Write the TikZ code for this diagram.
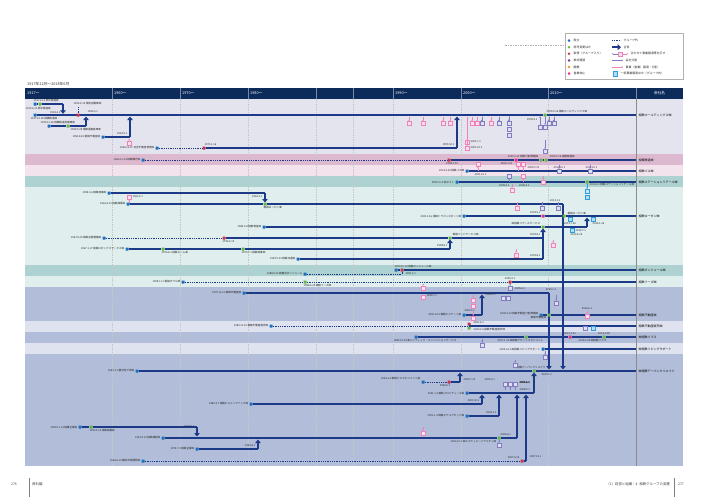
\documentclass[tikz,border=0pt]{standalone}
\usepackage{fontspec}
\setmainfont{Noto Sans CJK JP}
\usetikzlibrary{arrows.meta}

\definecolor{hdr}{RGB}{12,42,90}
\definecolor{lane}{RGB}{28,58,136}
\definecolor{bandH}{RGB}{228,228,238}
\definecolor{pinkD}{RGB}{221,185,208}
\definecolor{pinkL}{RGB}{243,227,237}
\definecolor{tealD}{RGB}{174,210,209}
\definecolor{tealL}{RGB}{224,238,238}
\definecolor{blueD}{RGB}{177,189,217}
\definecolor{blueL}{RGB}{223,227,240}
\definecolor{cSet}{RGB}{26,111,192}
\definecolor{cRen}{RGB}{96,182,72}
\definecolor{cAcq}{RGB}{200,51,74}
\definecolor{cSold}{RGB}{123,63,152}
\definecolor{cDis}{RGB}{242,154,30}
\definecolor{cRest}{RGB}{224,48,138}
\definecolor{icoP}{RGB}{238,130,185}
\definecolor{icoV}{RGB}{130,124,192}
\definecolor{icoC}{RGB}{43,157,224}

\def \lblfont {\fontsize{2.6}{3}\selectfont}
\def \namefont {\fontsize{3}{3.4}\selectfont}
\def \lanew {1.35pt}

\tikzset{
  lane/.style={draw=lane, line width=\lanew},
  outgrp/.style={draw=lane, line width=0.8pt, dash pattern=on 0.7pt off 1.1pt},
  merge/.style={lane, -{Triangle[width=5.5pt,length=3.4pt]}},
  gridln/.style={draw=black!22, line width=0.3pt, dash pattern=on 1.5pt off 1pt},
  pt/.style={rectangle, rounded corners=0.4pt, inner sep=0pt, minimum size=3pt},
  ptset/.style={pt, fill=cSet},
  ptren/.style={pt, fill=cRen},
  ptacq/.style={pt, fill=cAcq},
  ptrest/.style={pt, fill=cRest},
  lbl/.style={font=\lblfont, inner sep=0.5pt, text=black!85},
  coname/.style={font=\namefont, inner sep=0.5pt, anchor=west, text=black},
  hdtxt/.style={font=\fontsize{3.8}{4}\selectfont, text=white, inner sep=0pt, anchor=west},
  legtxt/.style={font=\fontsize{2.9}{3.2}\selectfont, inner sep=0.5pt, anchor=west, text=black!85},
  ico/.style={rectangle, inner sep=0pt, minimum width=3.4pt, minimum height=4pt, line width=0.4pt},
  stem/.style={line width=0.45pt, -{Stealth[length=1.3pt,width=1.6pt]}},
}

% small split / transfer marker: name, colour, x, y on lane, y of box
\newcommand\sticon[5]{%
  \coordinate (#1s) at (#3,#4);
  \node[ico, draw=#2, fill=#2!25] (#1) at (#3,#5) {};
  \draw[stem, draw=#2] (#1s) -- (#1);
}

\begin{document}
\begin{tikzpicture}[x=1pt,y=-1pt]
\useasboundingbox (0,0) rectangle (708,501);

% bands
\fill[bandH] (25,99) rectangle (683,154);
\fill[pinkD] (25,154) rectangle (683,165);
\fill[pinkL] (25,165) rectangle (683,176);
\fill[tealD] (25,176) rectangle (683,187);
\fill[tealL] (25,187) rectangle (683,265);
\fill[tealD] (25,265) rectangle (683,276);
\fill[tealL] (25,276) rectangle (683,287);
\fill[blueD] (25,287) rectangle (683,321);
\fill[blueL] (25,321) rectangle (683,332);
\fill[blueD] (25,332) rectangle (683,343);
\fill[blueL] (25,343) rectangle (683,354);
\fill[blueD] (25,354) rectangle (683,466);

% grid
\foreach \gx in {112,180,248,316,353,393,461,548}
  \draw[gridln] (\gx,99) -- (\gx,466);
\draw[black!45, line width=0.4pt] (636,99) -- (636,466);

% header
\node[font=\fontsize{3.8}{4}\selectfont, anchor=west, inner sep=0pt, text=black!80] (span) at (27,84) {1917年12月〜2018年6月};
\fill[hdr] (25,88) rectangle (683,99);
\foreach \gx in {112,180,248,316,353,393,461,548,636}
  \draw[white!45!hdr, line width=0.3pt] (\gx,88) -- (\gx,99);
\node[hdtxt] (h1917) at (27,93.5) {1917〜};
\node[hdtxt] (h1960) at (114,93.5) {1960〜};
\node[hdtxt] (h1970) at (182,93.5) {1970〜};
\node[hdtxt] (h1980) at (250,93.5) {1980〜};
\node[hdtxt] (h1990) at (395,93.5) {1990〜};
\node[hdtxt] (h2000) at (463,93.5) {2000〜};
\node[hdtxt] (h2010) at (550,93.5) {2010〜};
\node[hdtxt, anchor=center] (hname) at (659.5,93.5) {会社名};

% legend
\draw[black!30, line width=0.4pt, dash pattern=on 1.5pt off 1pt] (505,45) -- (565,45);
\draw[black!30, line width=0.4pt, fill=white] (565,33) rectangle (683,79);
\foreach \c/\t [count=\i] in {cSet/設立, cRen/商号変更ほか, cAcq/取得（グループ入り）, cSold/株式譲渡, cDis/解散, cRest/営業休止}{
  \node[circle, fill=\c, inner sep=0pt, minimum size=2.8pt] (lg\i) at (569,34+6.6*\i) {};
  \node[legtxt] (lg\i t) at (573,34+6.6*\i) {\t};
}
\coordinate (lo0) at (612,40.6); \coordinate (lo1) at (621,40.6);
\draw[outgrp] (lo0) -- (lo1);
\node[legtxt] (lot) at (623,40.6) {グループ外};
\coordinate (lm0) at (612,47.2); \coordinate (lm1) at (621,47.2);
\draw[lane, line width=1.6pt, -{Triangle[width=6pt,length=3.5pt]}] (lm0) -- (lm1);
\node[legtxt] (lmt) at (623,47.2) {合併};
\node[ico, draw=icoP, fill=icoP!25] (lsb) at (620,53.8) {};
\coordinate (ls0) at (612,53.8); \coordinate (ls1) at (628,53.8);
\draw[stem, draw=icoV] (lsb) -- (ls0);
\draw[stem, draw=icoP] (lsb) -- (ls1);
\node[legtxt] (lst) at (630,53.8) {合わせて事業譲渡等を示す};
\coordinate (lv0) at (612,60.4); \coordinate (lv1) at (623,60.4);
\draw[stem, draw=icoV, line width=0.6pt] (lv0) -- (lv1);
\node[legtxt] (lvt) at (625,60.4) {会社分割};
\coordinate (lp0) at (612,67); \coordinate (lp1) at (623,67);
\draw[stem, draw=icoP, line width=0.6pt] (lp0) -- (lp1);
\node[legtxt] (lpt) at (625,67) {事業（営業）譲渡・分割};
\node[ico, draw=icoC, fill=icoC!35, minimum width=4.5pt, minimum height=4.5pt] (lc) at (615,73.6) {};
\node[legtxt] (lct) at (620,73.6) {一部事業譲渡ほか（グループ内）};

% --- 相鉄ホールディングス
\node[ptset] (sa0) at (35,115) {};
\node[ptren] (sa1) at (545,115) {};
\coordinate (saE) at (636,115);
\draw[lane] (sa0) -- (sa1) -- (saE);
\node[lbl, anchor=north west] (sa0t) at (30,116.5) {1917.12.18 相模鉄道㈱};
\node[lbl, anchor=south west] (sa1t) at (546,113.6) {2009.9.16 相鉄ホールディングス㈱};
\node[coname] (saN) at (638,115) {相鉄ホールディングス㈱};

\node[ptset] (jn0) at (35,104) {};
\node[ptren] (jn1) at (40,104) {};
\coordinate (jnB) at (63,104); \coordinate (jnM) at (63,113.8);
\draw[lane] (jn0) -- (jn1) -- (jnB);
\draw[merge] (jnB) -- (jnM);
\node[lbl, anchor=south west] (jn0t) at (33,102.6) {1917.12.2 神中鉄道㈱};
\node[lbl, anchor=west] (jn1t) at (25,108.5) {1919.6.10 神中鉄道㈱};
\node[lbl, anchor=east] (jnMt) at (61,112.2) {1943.4.1};

\coordinate (ak0) at (78,107);
\node[ptacq] (ak1) at (78,115) {};
\draw[outgrp] (ak0) -- (ak1);
\node[lbl, anchor=south west] (ak0t) at (73,105.5) {1925.5.15 相武自動車㈱};

\node[ptset] (jd0) at (49,126) {};
\node[ptren] (jd1) at (68,126) {};
\coordinate (jdB) at (86,126); \coordinate (jdM) at (86,116.6);
\draw[lane] (jd0) -- (jd1) -- (jdB);
\draw[merge] (jdB) -- (jdM);
\node[lbl, anchor=south west] (jd0t) at (40,124.6) {1939.12.18 相模鉄道自動車㈱};
\node[lbl, anchor=north west] (jd1t) at (70,127.2) {1944.9.28 相模運輸倉庫㈱};
\node[lbl, anchor=south west] (jdMt) at (87,113.6) {1952.4.1};

\node[ptset] (fd0) at (103,137) {};
\coordinate (fdB) at (130,137); \coordinate (fdM) at (130,116.6);
\draw[lane] (fd0) -- (fdB);
\draw[merge] (fdB) -- (fdM);
\node[lbl, anchor=east] (fd0t) at (101,137) {1955.8.22 相鉄不動産㈱};
\node[lbl, anchor=south east] (fdMt) at (128,135.4) {1963.9.1};
\sticon{fdi}{icoP}{129}{138.5}{143}

\node[ptset] (hy0) at (157,148) {};
\node[ptacq] (hy1) at (204,148) {};
\coordinate (hyB) at (457,148); \coordinate (hyM) at (457,116.6);
\draw[outgrp] (hy0) -- (hy1);
\draw[lane] (hy1) -- (hyB);
\draw[merge] (hyB) -- (hyM);
\node[lbl, anchor=east] (hy0t) at (155,148) {1966.12.27 日吉不動産管理㈱};
\node[lbl, anchor=south west] (hy1t) at (204,146.4) {1973.1.16};
\node[lbl, anchor=south east] (hyMt) at (455,146.4) {1999.10.1};

% transfers off the holding lane
\foreach \ix in {409,423,443,450,472,477,491}
  \sticon{hp\ix}{icoP}{\ix}{116.5}{123.5}
\foreach \ix in {482,499,549,554}
  \sticon{hv\ix}{icoV}{\ix}{116.5}{123.5}
\sticon{hq1}{icoV}{509}{116.5}{123.5}
\node[ico, draw=icoV, fill=icoV!25] (hq2) at (509,129.5) {};
\node[ico, draw=icoV, fill=icoV!25] (hq3) at (509,135.5) {};
\node[ico, draw=icoP, fill=icoP!25] (hl1) at (467,142) {};
\sticon{hl2}{icoP}{467}{116.5}{148}
\node[lbl, anchor=west] (hl1t) at (470,142) {2001.7.1};
\node[lbl, anchor=west] (hl2t) at (470,148) {2001.10.1};
\node[ico, draw=icoV, fill=icoV!25] (hu1) at (540,127) {};
\coordinate (hu1e) at (540,116.5);
\draw[stem, draw=icoV] (hu1) -- (hu1e);
\node[lbl, anchor=east] (hu1t) at (538,119.5) {2009.5.1};
\sticon{hw1}{icoV}{545}{116.5}{127}
\sticon{hw2}{icoV}{545}{140}{151}

% --- 相模鉄道
\node[ptset] (sr0) at (143,160) {};
\node[ptacq] (sr1) at (449,160) {};
\node[ptrest] (sr2) at (516,160) {};
\node[ptren] (sr3) at (541,160) {};
\node[ptren] (sr4) at (546,160) {};
\coordinate (srE) at (636,160);
\draw[outgrp] (sr0) -- (sr1);
\draw[lane] (sr1) -- (sr2) -- (sr3) -- (sr4) -- (srE);
\node[lbl, anchor=east] (sr0t) at (141,160) {1964.11.24 相鉄観光㈱};
\node[lbl, anchor=north] (sr1t) at (452,161.5) {1998.3.30};
\node[lbl, anchor=north east] (sr2t) at (513,161.5) {2006.3.31};
\node[lbl, anchor=south east] (sr2u) at (539,158.4) {2009.1.22 相鉄分割準備㈱};
\node[lbl, anchor=south west] (sr4t) at (549,158.4) {2009.9.16 相模鉄道㈱};
\node[coname] (srN) at (638,160) {相模鉄道㈱};

% --- 相鉄バス
\node[ptset] (bs0) at (467,171) {};
\coordinate (bsE) at (636,171);
\draw[lane] (bs0) -- (bsE);
\node[lbl, anchor=east] (bs0t) at (465,171) {2001.4.20 相鉄バス㈱};
\node[lbl, anchor=north west] (bs0u) at (474,172.5) {2001.12.1};
\node[lbl, anchor=south west] (bs1t) at (527,169.5) {2009.3.31};
\node[lbl, anchor=south west] (bs2t) at (553,169.5) {2010.10.1};
\node[lbl, anchor=south west] (bs3t) at (585,169.5) {2014.10.1};
\sticon{bp1}{icoP}{478}{171}{164.5}
\sticon{bp2}{icoP}{518}{171}{164.5}
\sticon{bp3}{icoP}{523}{171}{164.5}
\sticon{bv1}{icoV}{559}{165}{171}
\sticon{bv2}{icoV}{590}{165}{171}
\node[coname] (bsN) at (638,171) {相鉄バス㈱};

% --- 相鉄ステーションリテール
\node[ptset] (st0) at (457,182) {};
\node[ptren] (st1) at (587,182) {};
\coordinate (stE) at (636,182);
\draw[lane] (st0) -- (st1) -- (stE);
\node[lbl, anchor=east] (st0t) at (455,182) {1999.5.12 ㈱ポスト};
\node[lbl, anchor=north west] (st1t) at (589,183) {2014.4.1 相鉄ステーションリテール㈱};
\node[lbl, anchor=north east] (sta) at (510,183.5) {2005.4.1};
\node[lbl, anchor=north east] (stb) at (530,183.5) {2006.4.1};
\sticon{sv1}{icoV}{509}{182}{176.5}
\sticon{sp1}{icoP}{523}{182}{176.5}
\sticon{sp2}{icoP}{543}{176}{182}
\sticon{sp3}{icoP}{512}{183.5}{190}
\sticon{sc1}{icoC}{587}{183.5}{191}
\node[ico, draw=icoC, fill=icoC!35] (sc2) at (587,197) {};
\node[coname] (stN) at (638,182) {相鉄ステーションリテール㈱};

% --- 相鉄ローゼン
\node[ptset] (rs0) at (109,193) {};
\coordinate (rsB) at (265,193); \coordinate (rsM) at (265,202.4);
\draw[lane] (rs0) -- (rsB);
\draw[merge] (rsB) -- (rsM);
\node[lbl, anchor=east] (rs0t) at (107,193) {1959.4.6 相鉄商事㈱};
\node[lbl, anchor=south east] (rsMt) at (263,198) {1962.3.1};
\sticon{rsi}{icoP}{129}{204}{197}
\node[lbl, anchor=west] (rsit) at (132,197) {1963.3.1};

\node[ptset] (rk0) at (128,204) {};
\node[ptren] (rk1) at (265,204) {};
\coordinate (rkB) at (563,204); \coordinate (rkM) at (563,369.4);
\draw[lane] (rk0) -- (rk1) -- (rkB);
\draw[merge] (rkB) -- (rkM);
\node[lbl, anchor=east] (rk0t) at (126,204) {1962.8.10 相鉄興業㈱};
\node[lbl, anchor=north west] (rk1t) at (263,205.5) {相鉄ローゼン㈱};
\node[lbl, anchor=south east] (rkBt) at (561,202.5) {2011.3.1};

\node[ptset] (rn0) at (464,216) {};
\node[ptrest] (rn1) at (543,216) {};
\node[ptren] (rn2) at (564,216) {};
\coordinate (rnE) at (636,216);
\draw[lane] (rn0) -- (rn1) -- (rn2) -- (rnE);
\node[lbl, anchor=east] (rn0t) at (462,216) {2000.12.6 相鉄ドラゴンズポート㈱};
\node[lbl, anchor=south east] (rn1t) at (541,214.5) {2009.5.1};
\node[lbl, anchor=west] (rn2t) at (567,213.5) {相鉄ローゼン㈱};
\sticon{rp1}{icoP}{517}{202}{208}
\sticon{rv1}{icoV}{542}{202}{208}
\sticon{rv2}{icoV}{558}{202}{208}
\node[ico, draw=icoC, fill=icoC!35] (rc1) at (570,219.5) {};
\node[ico, draw=icoC, fill=icoC!35] (rc2) at (593,219.5) {};
\node[lbl, anchor=north] (rc1t) at (570,222) {2013.7.26};
\node[lbl, anchor=north west] (rc2t) at (592,222) {2015.1.26};
\node[coname] (rnN) at (638,216) {相鉄ローゼン㈱};

\node[ptset] (rt0) at (264,227) {};
\node[ptren] (rt1) at (543,227) {};
\coordinate (rtB) at (587,227); \coordinate (rtM) at (587,217.6);
\draw[lane] (rt0) -- (rt1) -- (rtB);
\draw[merge] (rtB) -- (rtM);
\node[lbl, anchor=east] (rt0t) at (262,227) {1982.4.8 相鉄物産㈱};
\node[lbl, anchor=south east] (rt1t) at (541,225.5) {㈱相鉄リテールサービス};
\node[ico, draw=icoC, fill=icoC!35] (rc3) at (572,230.5) {};
\node[lbl, anchor=west] (rc3t) at (575,231) {2014.7.1};
\node[lbl, anchor=north west] (rc3u) at (570,233) {2013.6.15};

\node[ptset] (rf0) at (104,238) {};
\node[ptacq] (rf1) at (224,238) {};
\node[ptren] (rf2) at (450,238) {};
\coordinate (rfE) at (543,238);
\draw[outgrp] (rf0) -- (rf1);
\draw[lane] (rf1) -- (rf2) -- (rfE);
\node[lbl, anchor=east] (rf0t) at (102,238) {1967.8.29 相鉄会館警備㈱};
\node[lbl, anchor=north west] (rf1t) at (222,239.5) {1976.2.10};
\node[lbl, anchor=south west] (rf2t) at (452,236.5) {相鉄フードサービス㈱};
\node[lbl, anchor=south east] (rfEt) at (541,236.5) {2009.8.1};
\sticon{rp2}{icoP}{553}{239.5}{245}

\node[ptset] (rh0) at (127,249) {};
\node[ptren] (rh1) at (163,249) {};
\node[ptren] (rh2) at (243,249) {};
\coordinate (rhB) at (450,249); \coordinate (rhM) at (450,239.6);
\draw[lane] (rh0) -- (rh1) -- (rh2) -- (rhB);
\draw[merge] (rhB) -- (rhM);
\node[lbl, anchor=east] (rh0t) at (125,249) {1967.1.17 相鉄ロボックスサービス㈱};
\node[lbl, anchor=north west] (rh1t) at (161,250.5) {1976.6.1 相鉄ホーム㈱};
\node[lbl, anchor=north west] (rh2t) at (241,250.5) {1979.7.1 相鉄商事㈱};
\node[lbl, anchor=south east] (rhBt) at (448,247.5) {1998.8.1};

\node[ptset] (rg0) at (298,259) {};
\coordinate (rgB) at (543,259); \coordinate (rgM) at (543,228.6);
\draw[lane] (rg0) -- (rgB);
\draw[merge] (rgB) -- (rgM);
\node[lbl, anchor=east] (rg0t) at (296,259) {1987.9.30 相鉄流通㈱};
\node[lbl, anchor=south east] (rgBt) at (541,257.5) {2009.8.1};
\sticon{rp3}{icoP}{516}{249}{255}
\node[lbl, anchor=north] (rp3t) at (516,258) {2006.3.1};

% --- 相鉄ボンジュール
\node[ptset] (bj0) at (305,274) {};
\coordinate (bjB) at (402,274);
\node[ptset] (bj1) at (396,270) {};
\node[ptacq] (bj2) at (402,270) {};
\coordinate (bjE) at (636,270);
\draw[outgrp] (bj0) -- (bjB) -- (bj2);
\draw[lane] (bj1) -- (bj2) -- (bjE);
\node[lbl, anchor=east] (bj0t) at (303,274) {1988.8.22 ㈱横浜ボンジュール};
\node[lbl, anchor=south west] (bj1t) at (394,268.5) {1990.10.19 相鉄ボンジュール㈱};
\node[lbl, anchor=west] (bj2t) at (405,274) {1991.3.1};
\node[coname] (bjN) at (638,270) {相鉄ボンジュール㈱};

% --- 相鉄フーズ
\node[ptset] (fz0) at (183,282) {};
\node[ptren] (fz1) at (305,282) {};
\node[ptacq] (fz2) at (510,282) {};
\coordinate (fzE) at (636,282);
\draw[outgrp] (fz0) -- (fz1) -- (fz2);
\draw[lane] (fz2) -- (fzE);
\node[lbl, anchor=east] (fz0t) at (181,282) {1978.11.1 相鉄ボウル㈱};
\node[lbl, anchor=north west] (fz1t) at (303,283.5) {1988.6.25 相鉄フーズ㈱};
\node[lbl, anchor=south] (fz2t) at (510,280.5) {2005.4.1};
\sticon{fzv}{icoV}{510}{283.5}{288}
\node[lbl, anchor=west] (fzvt) at (514,289) {2005.6.1};
\node[coname] (fzN) at (638,282) {相鉄フーズ㈱};

% --- 相鉄不動産
\node[ptset] (re0) at (244,293) {};
\coordinate (reB) at (549,293); \coordinate (reM) at (549,369.4);
\draw[lane] (re0) -- (reB);
\draw[merge] (reB) -- (reM);
\node[lbl, anchor=east] (re0t) at (242,293) {1979.12.12 相鉄不動産㈱};
\node[lbl, anchor=south] (reBt) at (551,291.5) {2010.1.1};
\sticon{rev}{icoV}{556}{294.5}{303}

\node[ptset] (es0) at (464,315) {};
\coordinate (esB) at (482,315); \coordinate (esM) at (482,294.6);
\draw[lane] (es0) -- (esB);
\draw[merge] (esB) -- (esM);
\node[lbl, anchor=east] (es0t) at (462,315) {2000.12.5 相鉄エステート㈱};
\node[lbl, anchor=south west] (es0u) at (464,312) {2002.3.1};
\node[lbl, anchor=south west] (esMt) at (485,296.5) {2005.1.1};
\sticon{ep1}{icoP}{423}{283.5}{288}
\node[ico, draw=icoP, fill=icoP!25] (ep2) at (423,297) {};
\node[lbl, anchor=west] (ep2t) at (426,296) {1994.7.1};
\sticon{ep3}{icoP}{473}{294.5}{300}
\node[ico, draw=icoP, fill=icoP!25] (ep4) at (473,306) {};
\node[ico, draw=icoV, fill=icoV!25] (ev1) at (503,298) {};
\node[ico, draw=icoV, fill=icoV!25] (ev2) at (508,298) {};

\node[ptset] (rp0) at (541,315) {};
\node[ptren] (rp1) at (549,315) {};
\coordinate (rpE) at (636,315);
\draw[lane] (rp0) -- (rp1) -- (rpE);
\node[lbl, anchor=east] (rp0t) at (539,314) {2009.4.10 相鉄不動産分割準備㈱};
\node[lbl, anchor=north east] (rp0u) at (547,316) {相鉄不動産㈱};
\node[lbl, anchor=south] (rp1t) at (587,310) {2016.6.1};
\sticon{rpp}{icoP}{587}{311}{316}
\node[coname] (rpN) at (638,315) {相鉄不動産㈱};

% --- 相鉄不動産販売
\node[ptset] (rh0x) at (271,326) {};
\node[ptacq] (rh1x) at (469,324) {};
\node[ptren] (rh2x) at (469,328) {};
\coordinate (rhMx) at (469,326);
\coordinate (rhEx) at (636,326);
\draw[outgrp] (rh0x) -- (rhMx);
\draw[lane] (rhMx) -- (rhEx);
\node[lbl, anchor=east] (rh0xt) at (269,326) {1983.12.10 相鉄不動産販売㈱};
\node[lbl, anchor=west] (rh1xt) at (473,323) {2001.6.1};
\node[lbl, anchor=west] (rh2xt) at (473,329.5) {2004.2.6 相鉄不動産販売㈱};
\sticon{spp}{icoP}{473}{311}{318}
\node[ico, draw=icoV, fill=icoV!25] (spv) at (585,328.5) {};
\node[ico, draw=icoC, fill=icoC!35] (spc) at (593,328.5) {};
\node[coname] (rhNx) at (638,326) {相鉄不動産販売㈱};

% --- 相鉄リプス
\node[ptset] (lp0) at (416,337) {};
\node[ptren] (lp1) at (526,337) {};
\node[ptrest] (lp2) at (570,337) {};
\node[ptren] (lp3) at (604,337) {};
\coordinate (lpE) at (636,337);
\draw[lane] (lp0) -- (lp1) -- (lp2) -- (lp3) -- (lpE);
\node[lbl, anchor=north west] (lp0t) at (393,338.5) {1983.12.20 ㈱パシフィック・コンベンションサービス};
\node[lbl, anchor=north west] (lp1t) at (497,338.5) {2007.1.31 ㈱相鉄アセットマネジメント};
\node[lbl, anchor=south] (lp2t) at (570,335.5) {2012.3.31};
\node[lbl, anchor=south] (lp3t) at (604,335.5) {2014.2.28};
\node[lbl, anchor=north west] (lp3u) at (578,338.5) {2015.3.24 ㈱相鉄リプス};
\node[coname] (lpN) at (638,337) {㈱相鉄リプス};

% --- 相鉄リビングサポート
\node[ptset] (lv0) at (543,349) {};
\coordinate (lvE) at (636,349);
\draw[lane] (lv0) -- (lvE);
\node[lbl, anchor=east] (lv0t) at (541,349) {2009.6.11 ㈱相鉄リビングサポート};
\sticon{lvv}{icoV}{482}{339}{345}
\sticon{lvw}{icoV}{545}{350.5}{357}
\node[coname] (lvN) at (638,349) {㈱相鉄リビングサポート};

% --- 相鉄アーバンクリエイツ
\node[ptset] (uc0) at (137,371) {};
\node[ptren] (uc1) at (534,371) {};
\coordinate (ucE) at (636,371);
\draw[lane] (uc0) -- (uc1) -- (ucE);
\node[lbl, anchor=east] (uc0t) at (135,371) {1963.3.1 横浜地下街㈱};
\node[lbl, anchor=south] (uc1t) at (530,369.5) {㈱相鉄アーバンクリエイツ};
\node[lbl, anchor=north west] (uc1u) at (541,372.5) {2010.1.1};
\node[coname] (ucN) at (638,371) {㈱相鉄アーバンクリエイツ};
\sticon{ucv}{icoV}{515}{360}{365}

\node[ptset] (ua0) at (423,382) {};
\node[ptacq] (ua1) at (449,382) {};
\coordinate (uaB) at (460,382); \coordinate (uaM) at (460,372.6);
\draw[outgrp] (ua0) -- (ua1);
\draw[lane] (ua1) -- (uaB);
\draw[merge] (uaB) -- (uaM);
\node[lbl, anchor=east] (ua0t) at (421,379) {1994.6.2 相鉄ビルマネジメント㈱};
\node[lbl, anchor=north] (ua1t) at (445,383.5) {1996.5.1};
\node[lbl, anchor=west] (uaMt) at (463,380) {2005.7.13};
\node[lbl, anchor=west] (uaNt) at (484,380) {2005.3.1};
\foreach \ix in {505,510,515}
  \sticon{uv\ix}{icoV}{\ix}{389.5}{384}
\node[lbl, anchor=west] (uvt) at (519,383) {2005.6.1};

\node[ptset] (ub0) at (467,393) {};
\coordinate (ubB) at (534,393); \coordinate (ubM) at (534,372.6);
\draw[lane] (ub0) -- (ubB);
\draw[merge] (ubB) -- (ubM);
\node[lbl, anchor=east] (ub0t) at (465,393) {2001.1.4 相鉄プロパティーズ㈱};
\node[lbl, anchor=west] (ubBt) at (519,389.5) {2008.4.1};

\node[ptset] (ud0) at (251,404) {};
\coordinate (udB) at (482,404); \coordinate (udM) at (482,394.6);
\draw[lane] (ud0) -- (udB);
\draw[merge] (udB) -- (udM);
\node[lbl, anchor=east] (ud0t) at (249,404) {1980.4.1 相鉄ビルメンテナンス㈱};
\node[lbl, anchor=south east] (udBt) at (480,402.5) {2003.10.1};

\node[ptset] (ue0) at (467,416) {};
\coordinate (ueB) at (499,416); \coordinate (ueM) at (499,394.6);
\draw[lane] (ue0) -- (ueB);
\draw[merge] (ueB) -- (ueM);
\node[lbl, anchor=east] (ue0t) at (465,416) {2001.1.4 相鉄ホテルアセッツ㈱};
\node[lbl, anchor=south east] (ueBt) at (497,414.5) {2004.1.1};

\node[ptset] (uf0) at (80,427) {};
\node[ptren] (uf1) at (91,427) {};
\coordinate (ufB) at (197,427); \coordinate (ufM) at (197,436.4);
\draw[lane] (uf0) -- (uf1) -- (ufB);
\draw[merge] (ufB) -- (ufM);
\node[lbl, anchor=east] (uf0t) at (78,427) {1950.11.14 相模企業㈱};
\node[lbl, anchor=north west] (uf1t) at (89,428.5) {1953.5.13 相鉄興業㈱};
\node[lbl, anchor=south east] (ufBt) at (195,428.5) {1972.7.1};

\node[ptset] (ug0) at (163,438) {};
\node[ptren] (ug1) at (499,438) {};
\coordinate (ugB) at (517,438); \coordinate (ugM) at (517,394.6);
\draw[lane] (ug0) -- (ug1) -- (ugB);
\draw[merge] (ugB) -- (ugM);
\node[lbl, anchor=east] (ug0t) at (161,438) {1967.8.10 相鉄建設㈱};
\node[lbl, anchor=south west] (ug1t) at (500,436.5) {2006.6.1};
\node[lbl, anchor=north east] (ug1u) at (497,439.5) {2006.10.1 ㈱エスティルーリアルティ㈱};
\sticon{ugv}{icoV}{499}{439.5}{445}
\sticon{ugp}{icoP}{423}{427}{433}

\node[ptset] (uh0) at (197,449) {};
\coordinate (uhB) at (258,449); \coordinate (uhM) at (258,439.6);
\draw[lane] (uh0) -- (uhB);
\draw[merge] (uhB) -- (uhM);
\node[lbl, anchor=east] (uh0t) at (195,449) {1973.7.3 相鉄企業㈱};
\node[lbl, anchor=south east] (uhBt) at (256,447.5) {1981.8.1};

\node[ptset] (ui0) at (143,461) {};
\node[ptacq] (ui1) at (522,461) {};
\coordinate (uiB) at (526,461); \coordinate (uiM) at (526,394.6);
\draw[outgrp] (ui0) -- (ui1);
\draw[lane] (ui1) -- (uiB);
\draw[merge] (uiB) -- (uiM);
\node[lbl, anchor=east] (ui0t) at (141,461) {1964.6.23 横浜市場開発㈱};
\node[lbl, anchor=south east] (ui1t) at (520,459.5) {2007.6.15};
\node[lbl, anchor=south west] (uiBt) at (529,458.5) {2007.12.1};

% footer
\node[font=\fontsize{3.4}{4}\selectfont, inner sep=0pt, anchor=west, text=black!75] (pgL) at (11,484) {276};
\draw[black!50, line width=0.3pt] (29,478) -- (29,497);
\node[font=\fontsize{3.4}{4}\selectfont, inner sep=0pt, anchor=west, text=black!75] (pgLt) at (32,484) {資料編};
\node[font=\fontsize{3.4}{4}\selectfont, inner sep=0pt, anchor=east, text=black!75] (pgRt) at (670,484) {（1）経営と組織｜4. 相鉄グループの変遷};
\draw[black!50, line width=0.3pt] (674,478) -- (674,497);
\node[font=\fontsize{3.4}{4}\selectfont, inner sep=0pt, anchor=west, text=black!75] (pgR) at (678,484) {277};
\end{tikzpicture}
\end{document}
